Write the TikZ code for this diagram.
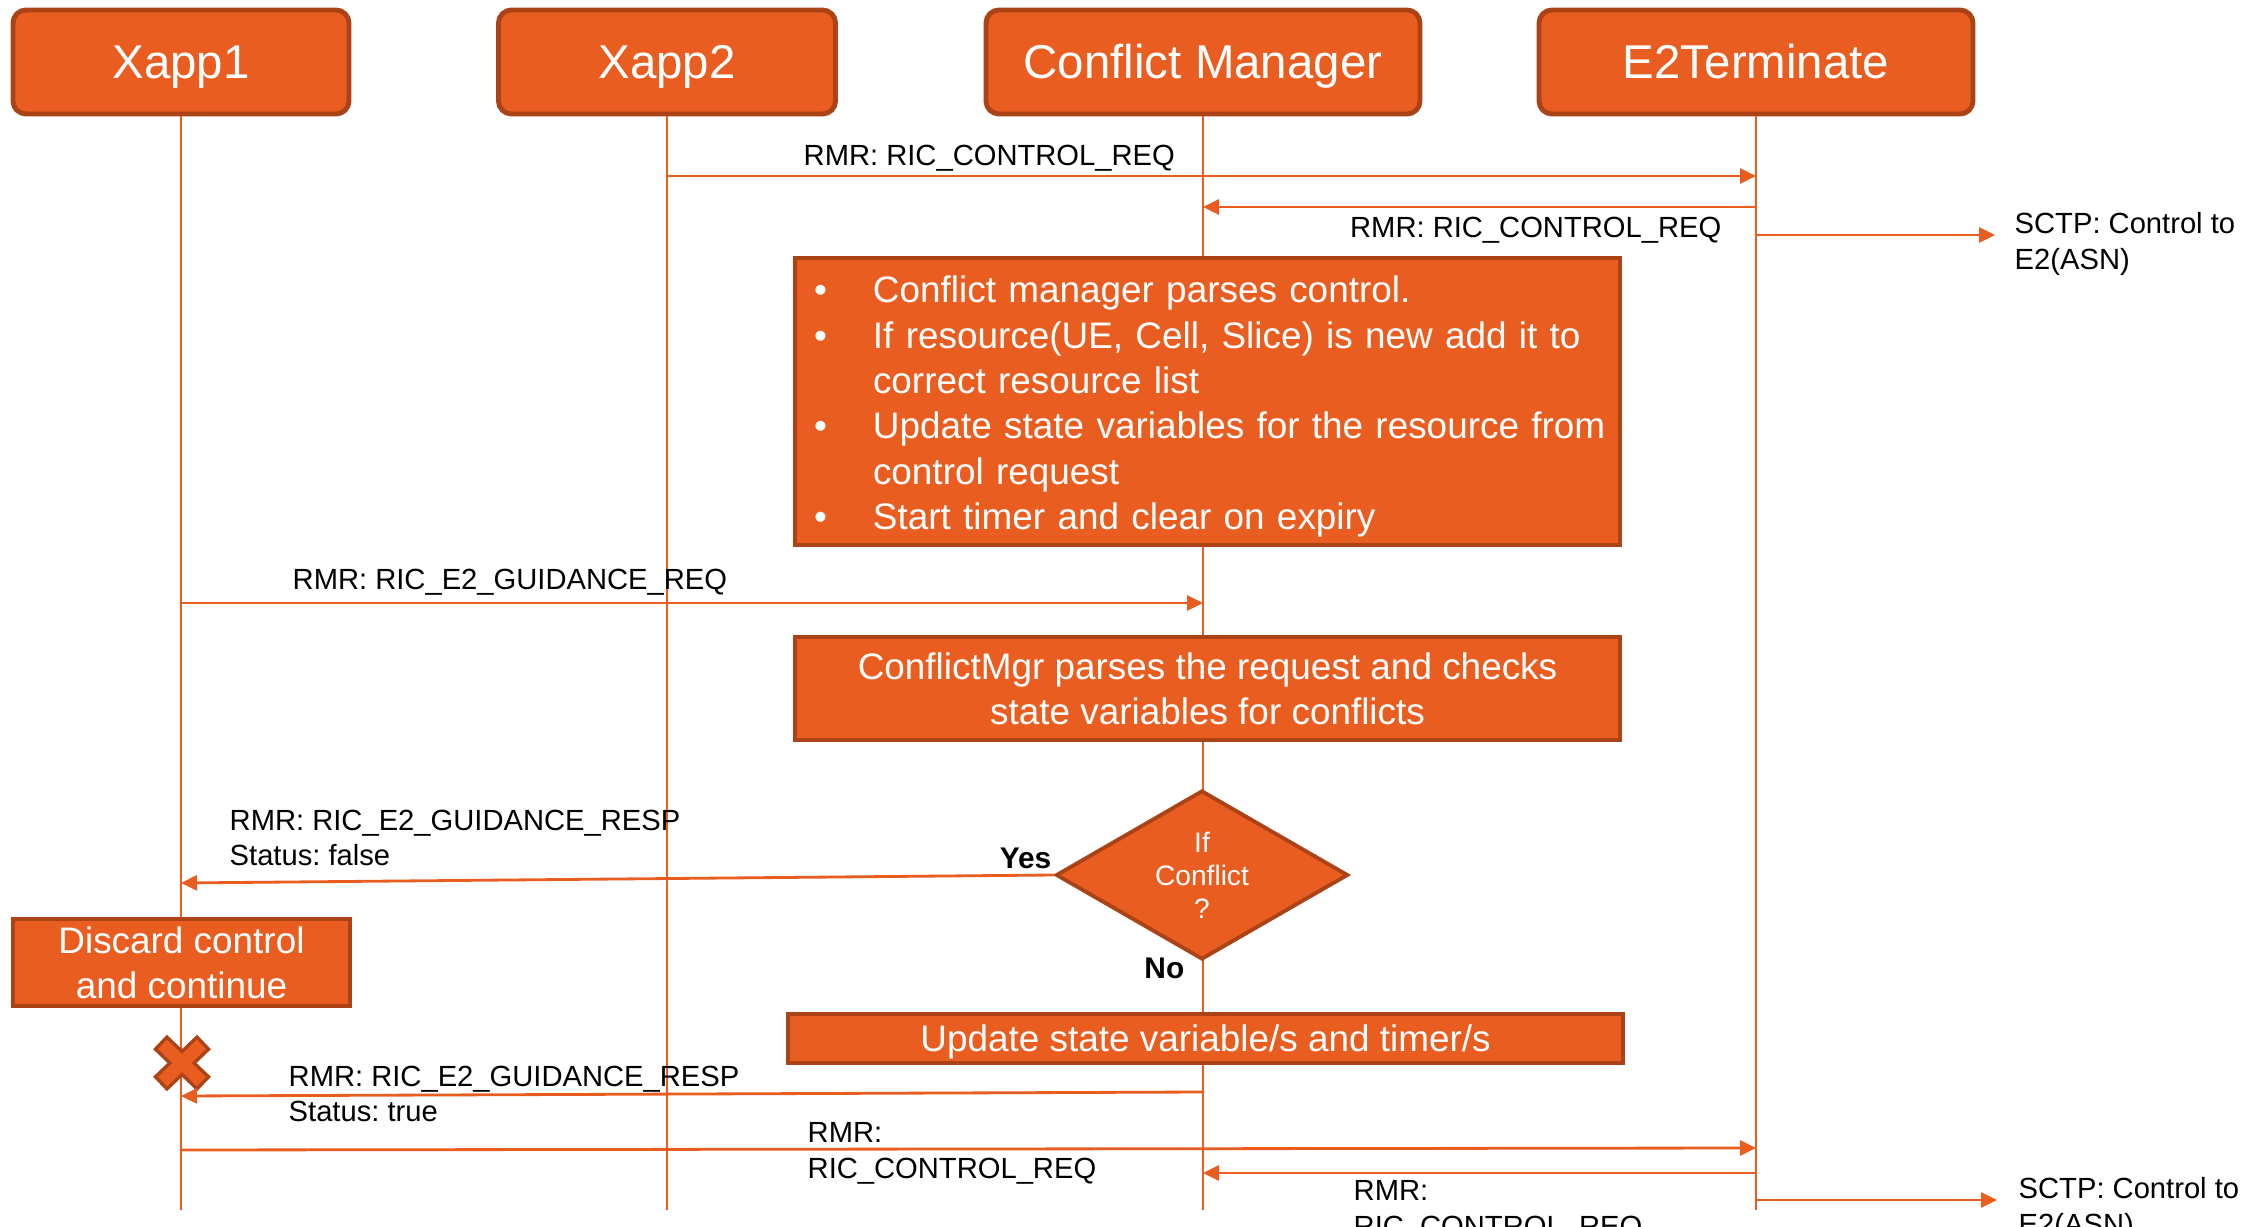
\documentclass[tikz,border=0pt]{standalone}
\usepackage{fontspec}
\setmainfont{Liberation Sans}
\frenchspacing
\usetikzlibrary{arrows.meta,shapes.geometric}
\definecolor{cmorange}{HTML}{E95E20}
\definecolor{cmdark}{HTML}{AB4317}
\newcommand{\bul}{\hspace*{0.165cm}\makebox[0.59cm][l]{\textbullet}}
\tikzset{
	header/.style={draw=cmdark, fill=cmorange, line width=1.4pt, rounded corners=0.13cm, text=white, font=\fontsize{13.5}{16}\selectfont, minimum height=1.04cm, text height=0.34cm, text depth=0cm},
	stepbox/.style={draw=cmdark, fill=cmorange, line width=1.1pt, text=white, font=\fontsize{10.5}{12.9}\selectfont, align=center, inner ysep=1pt},
	decision/.style={diamond, draw=cmdark, fill=cmorange, line width=1.1pt, text=white, font=\fontsize{8}{9.4}\selectfont, align=center, inner sep=0pt, aspect=1.73, minimum width=2.92cm, minimum height=1.69cm},
	yesno/.style={font=\fontsize{8.5}{10}\selectfont\bfseries, inner sep=0pt},
	lifeline/.style={cmorange, line width=0.45pt},
	msg/.style={cmorange, line width=0.8pt, -{Triangle[length=1.6mm,width=1.5mm]}},
	lbl/.style={font=\fontsize{8.3}{10.2}\selectfont, inner sep=0pt, align=left}
}
\begin{document}
\begin{tikzpicture}[y=-1cm]
	\useasboundingbox (0,0) rectangle (22.56,12.27);
	
	% headers
	\node[header, minimum width=3.36cm] (xapp1) at (1.81,0.62) {Xapp1};
	\node[header, minimum width=3.37cm] (xapp2) at (6.67,0.62) {Xapp2};
	\node[header, minimum width=4.34cm] (cm) at (12.03,0.62) {Conflict Manager};
	\node[header, minimum width=4.34cm] (e2t) at (17.56,0.62) {E2Terminate};
	
	% lifelines
	\foreach \n in {xapp1,xapp2,cm,e2t}
		\draw[lifeline] (\n.south) -- (\n.south |- 0,12.10);
	
	% control request from Xapp2
	\draw[msg] (xapp2 |- 0,1.76) -- (e2t |- 0,1.76);
	\node[lbl, anchor=west] (req1) at (8.03,1.58) {RMR: RIC\_CONTROL\_REQ};
	\draw[msg] (e2t |- 0,2.07) -- (cm |- 0,2.07);
	\node[lbl, anchor=east] (req2) at (17.22,2.30) {RMR: RIC\_CONTROL\_REQ};
	\coordinate (sctpa) at (19.95,2.35);
	\draw[msg] (e2t |- sctpa) -- (sctpa);
	\node[lbl, anchor=north west] (asn1) at (20.14,2.12) {SCTP: Control to\\E2(ASN)};
	
	% parsing of the control
	\node[stepbox, align=left, text width=8.2cm, inner xsep=0.025cm, minimum height=2.87cm] (parse) at (12.075,4.015) {\rule{0pt}{10.5pt}\bul Conflict manager parses control.\\\bul If resource(UE, Cell, Slice) is new add it to\\\hspace*{0.755cm}correct resource list\\\bul Update state variables for the resource from\\\hspace*{0.755cm}control request\\\bul Start timer and clear on expiry};
	
	% guidance request from Xapp1
	\draw[msg] (xapp1 |- 0,6.03) -- (cm |- 0,6.03);
	\node[lbl, anchor=west] (guide) at (2.92,5.82) {RMR: RIC\_E2\_GUIDANCE\_REQ};
	\node[stepbox, minimum width=8.25cm, minimum height=1.03cm] (check) at (12.075,6.885) {ConflictMgr parses the request and checks\\state variables for conflicts};
	
	% decision
	\node[decision] (conf) at (12.02,8.75) {If\\Conflict\\?};
	\node[yesno, anchor=base east] (yes) at (10.52,8.68) {Yes};
	\node[yesno, anchor=base east] (no) at (11.85,9.78) {No};
	
	% yes: discard
	\draw[msg] (conf.west) -- (xapp1 |- 0,8.83);
	\node[lbl, anchor=north west] (resp1) at (2.29,8.09) {RMR: RIC\_E2\_GUIDANCE\_RESP\\Status: false};
	\node[stepbox, minimum width=3.37cm, minimum height=0.87cm] (discard) at (1.815,9.625) {Discard control\\and continue};
	
	% cross
	\draw[cmdark, line width=0.2cm] (1.60,10.42) -- (2.04,10.84);
	\draw[cmdark, line width=0.2cm] (1.60,10.84) -- (2.04,10.42);
	\draw[cmorange, line width=0.13cm, shorten <=0.035cm, shorten >=0.035cm] (1.60,10.42) -- (2.04,10.84);
	\draw[cmorange, line width=0.13cm, shorten <=0.035cm, shorten >=0.035cm] (1.60,10.84) -- (2.04,10.42);
	
	% no: update
	\node[stepbox, minimum width=8.35cm, minimum height=0.49cm, text depth=0pt] (update) at (12.055,10.385) {Update state variable/s and timer/s};
	\draw[msg] (cm |- 0,10.92) -- (xapp1 |- 0,10.96);
	\node[lbl, anchor=north west] (resp2) at (2.88,10.65) {RMR: RIC\_E2\_GUIDANCE\_RESP\\Status: true};
	
	% control request from Xapp1
	\draw[msg] (xapp1 |- 0,11.50) -- (e2t |- 0,11.48);
	\node[lbl, anchor=north west] (req3) at (8.07,11.22) {RMR:\\RIC\_CONTROL\_REQ};
	\draw[msg] (e2t |- 0,11.73) -- (cm |- 0,11.73);
	\node[lbl, anchor=north west] (req4) at (13.53,11.80) {RMR:\\RIC\_CONTROL\_REQ};
	\coordinate (sctpb) at (19.97,12.00);
	\draw[msg] (e2t |- sctpb) -- (sctpb);
	\node[lbl, anchor=north west] (asn2) at (20.18,11.77) {SCTP: Control to\\E2(ASN)};
\end{tikzpicture}
\end{document}
